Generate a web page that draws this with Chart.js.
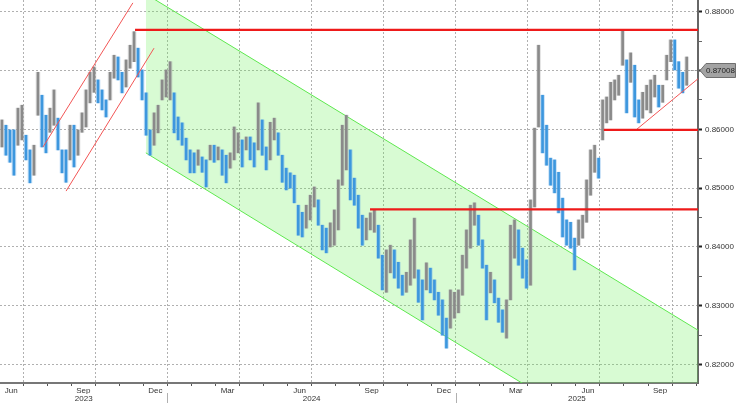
<!DOCTYPE html>
<html>
<head>
<meta charset="utf-8">
<script src="https://cdn.jsdelivr.net/npm/chart.js@4.4.1/dist/chart.umd.min.js"></script>
<style>
  html, body { margin: 0; padding: 0; background: #fff; }
  #wrap { width: 736px; height: 403px; position: relative; }
</style>
</head>
<body>
<div id="wrap"><canvas id="fx_chart"></canvas></div>
<script>
// x values are months after 1 Jun 2023
const xMin = 0.03;
const xMax = 29.08;
const firstBar = 0.11;
const barStep = 1 / 6; // one bar every ~5 days

const highs = [
  0.8616, 0.8607, 0.8599, 0.8599, 0.8636, 0.8641, 0.8590, 0.8565, 0.8573, 0.8697,
  0.8658, 0.8624, 0.8636, 0.8667, 0.8619, 0.8565, 0.8565, 0.8607, 0.8607, 0.8599,
  0.8628, 0.8667, 0.8697, 0.8706, 0.8684, 0.8667, 0.8650, 0.8697, 0.8726, 0.8723,
  0.8697, 0.8718, 0.8743, 0.8766, 0.8738, 0.8701, 0.8662, 0.8599, 0.8628, 0.8641,
  0.8684, 0.8701, 0.8715, 0.8662, 0.8621, 0.8611, 0.8585, 0.8565, 0.8560, 0.8565,
  0.8553, 0.8548, 0.8573, 0.8573, 0.8570, 0.8565, 0.8556, 0.8560, 0.8604, 0.8594,
  0.8582, 0.8587, 0.8587, 0.8577, 0.8645, 0.8616, 0.8570, 0.8612, 0.8619, 0.8594,
  0.8556, 0.8534, 0.8526, 0.8522, 0.8471, 0.8459, 0.8471, 0.8488, 0.8502, 0.8480,
  0.8437, 0.8432, 0.8441, 0.8463, 0.8514, 0.8607, 0.8624, 0.8565, 0.8517, 0.8488,
  0.8454, 0.8449, 0.8458, 0.8463, 0.8437, 0.8386, 0.8395, 0.8403, 0.8395, 0.8374,
  0.8352, 0.8357, 0.8412, 0.8449, 0.8361, 0.8344, 0.8373, 0.8364, 0.8344, 0.8323,
  0.8310, 0.8279, 0.8327, 0.8323, 0.8327, 0.8386, 0.8429, 0.8471, 0.8475, 0.8454,
  0.8412, 0.8369, 0.8357, 0.8344, 0.8313, 0.8293, 0.8310, 0.8437, 0.8446, 0.8429,
  0.8398, 0.8378, 0.8480, 0.8602, 0.8743, 0.8658, 0.8607, 0.8551, 0.8548, 0.8527,
  0.8483, 0.8446, 0.8442, 0.8415, 0.8446, 0.8454, 0.8514, 0.8565, 0.8573, 0.8551,
  0.8650, 0.8655, 0.8680, 0.8684, 0.8692, 0.8769, 0.8718, 0.8730, 0.8709, 0.8650,
  0.8663, 0.8675, 0.8684, 0.8692, 0.8675, 0.8675, 0.8726, 0.8752, 0.8752, 0.8715,
  0.8697, 0.8723
];
const lows = [
  0.8570, 0.8556, 0.8544, 0.8522, 0.8573, 0.8582, 0.8548, 0.8509, 0.8522, 0.8624,
  0.8570, 0.8560, 0.8595, 0.8607, 0.8565, 0.8526, 0.8510, 0.8548, 0.8536, 0.8556,
  0.8595, 0.8604, 0.8645, 0.8663, 0.8645, 0.8633, 0.8621, 0.8650, 0.8687, 0.8684,
  0.8662, 0.8672, 0.8704, 0.8715, 0.8689, 0.8650, 0.8590, 0.8556, 0.8573, 0.8594,
  0.8650, 0.8655, 0.8650, 0.8594, 0.8582, 0.8573, 0.8548, 0.8526, 0.8526, 0.8539,
  0.8527, 0.8502, 0.8548, 0.8544, 0.8548, 0.8522, 0.8509, 0.8534, 0.8548, 0.8560,
  0.8536, 0.8565, 0.8548, 0.8536, 0.8565, 0.8556, 0.8531, 0.8548, 0.8582, 0.8556,
  0.8510, 0.8497, 0.8500, 0.8475, 0.8420, 0.8417, 0.8432, 0.8446, 0.8468, 0.8437,
  0.8395, 0.8390, 0.8400, 0.8403, 0.8429, 0.8505, 0.8531, 0.8480, 0.8471, 0.8432,
  0.8403, 0.8412, 0.8429, 0.8425, 0.8381, 0.8327, 0.8323, 0.8356, 0.8347, 0.8330,
  0.8318, 0.8323, 0.8335, 0.8347, 0.8306, 0.8276, 0.8327, 0.8322, 0.8310, 0.8284,
  0.8250, 0.8228, 0.8262, 0.8279, 0.8288, 0.8318, 0.8364, 0.8398, 0.8437, 0.8403,
  0.8364, 0.8276, 0.8322, 0.8305, 0.8272, 0.8255, 0.8245, 0.8310, 0.8381, 0.8369,
  0.8347, 0.8330, 0.8335, 0.8468, 0.8604, 0.8560, 0.8539, 0.8505, 0.8492, 0.8458,
  0.8417, 0.8403, 0.8398, 0.8361, 0.8403, 0.8415, 0.8442, 0.8488, 0.8527, 0.8517,
  0.8582, 0.8611, 0.8616, 0.8650, 0.8658, 0.8709, 0.8628, 0.8680, 0.8621, 0.8611,
  0.8619, 0.8633, 0.8628, 0.8655, 0.8638, 0.8646, 0.8684, 0.8715, 0.8701, 0.8670,
  0.8662, 0.8675
];
const lastPrice = 0.87008;

const monthLabels = ["Jun", "Sep", "Dec", "Mar", "Jun", "Sep", "Dec", "Mar", "Jun", "Sep"];
const monthLabelAt = [0.5, 3.5, 6.5, 9.5, 12.5, 15.5, 18.5, 21.5, 24.5, 27.5];
const yearLabels = ["2023", "2024", "2025"];
const yearStarts = [7, 19]; // Jan 2024, Jan 2025
const yTicks = [0.82, 0.825, 0.83, 0.835, 0.84, 0.845, 0.85, 0.855, 0.86, 0.865, 0.87, 0.875, 0.88];

// falling channel (green)
const channelX = [6.1, 29.1];
const channelUpper = [0.8830, 0.8258];
const channelLower = [0.8560, 0.7985];

// red support / resistance and trend lines
const redLevels = [
  { x: [5.65, 29.1], y: [0.8769, 0.8769] },
  { x: [15.43, 29.1], y: [0.8464, 0.8464] },
  { x: [25.16, 29.1], y: [0.8599, 0.8599] },
];
const redTrends = [
  { x: [26.5, 29.08], y: [0.8599, 0.8686] },
  { x: [1.82, 5.56], y: [0.8570, 0.8815] },
  { x: [2.78, 6.44], y: [0.8495, 0.8738] },
];

const barX = highs.map((_, i) => firstBar + i * barStep);
const bars = highs.map((h, i) => ({ x: barX[i], y: [lows[i], h] }));
const isDown = highs.map((h, i) => i > 0 && h + lows[i] < highs[i - 1] + lows[i - 1]);

const toPoints = (xs, ys) => xs.map((x, i) => ({ x: x, y: ys[i] }));
const isMajor = (v) => Math.round(v * 1000) % 10 === 0;
const font = { family: "Liberation Sans", size: 8 };
const noPad = (s) => { s.paddingTop = 0; s.paddingBottom = 0; s.paddingLeft = 0; s.paddingRight = 0; };

const lineSets = [
  {
    type: "line", data: toPoints(channelX, channelLower),
    borderColor: "#5ee84f", borderWidth: 1, pointRadius: 0, order: 10,
  },
  {
    type: "line", data: toPoints(channelX, channelUpper),
    borderColor: "#5ee84f", borderWidth: 1, pointRadius: 0, order: 9,
    fill: "-1", backgroundColor: "rgba(100, 240, 80, 0.25)",
  },
];
redLevels.forEach((l) => lineSets.push({
  type: "line", data: toPoints(l.x, l.y),
  borderColor: "#ee1a1a", borderWidth: 2.2, pointRadius: 0, order: 1,
}));
redTrends.forEach((l) => lineSets.push({
  type: "line", data: toPoints(l.x, l.y),
  borderColor: "#f25555", borderWidth: 1, pointRadius: 0, order: 1,
}));

const extras = {
  id: "extras",
  afterDraw(chart) {
    const { ctx, chartArea, scales } = chart;
    ctx.save();
    // year separators under the axis
    ctx.strokeStyle = "#b0b0b0";
    ctx.lineWidth = 1;
    yearStarts.forEach((m) => {
      const x = Math.round(scales.x.getPixelForValue(m)) + 0.5;
      ctx.beginPath();
      ctx.moveTo(x, chartArea.bottom + 10);
      ctx.lineTo(x, chart.height);
      ctx.stroke();
    });
    // last price line + tag
    const y = Math.round(scales.y.getPixelForValue(lastPrice)) + 0.5;
    const x0 = scales.x.getPixelForValue(barX[barX.length - 1]);
    ctx.setLineDash([2, 2]);
    ctx.strokeStyle = "#999";
    ctx.beginPath();
    ctx.moveTo(x0, y);
    ctx.lineTo(chartArea.right, y);
    ctx.stroke();
    ctx.setLineDash([]);
    const r = chartArea.right + 2;
    ctx.beginPath();
    ctx.moveTo(r, y);
    ctx.lineTo(r + 6, y - 7);
    ctx.lineTo(chart.width - 0.5, y - 7);
    ctx.lineTo(chart.width - 0.5, y + 7);
    ctx.lineTo(r + 6, y + 7);
    ctx.closePath();
    ctx.fillStyle = "#a3a3a3";
    ctx.fill();
    ctx.strokeStyle = "#6f6f6f";
    ctx.stroke();
    ctx.fillStyle = "#1e1e1e";
    ctx.font = "8px 'Liberation Sans'";
    ctx.textBaseline = "middle";
    ctx.fillText(lastPrice.toFixed(5), r + 6, y + 0.5);
    ctx.restore();
  },
};

new Chart(document.getElementById("fx_chart"), {
  type: "bar",
  data: {
    datasets: [
      ...lineSets,
      {
        data: bars, grouped: false, barThickness: 4, order: 5,
        backgroundColor: isDown.map((d) => (d ? "rgba(110,175,235,0.38)" : "rgba(175,175,175,0.38)")),
      },
      {
        data: bars, grouped: false, barThickness: 2, order: 4,
        backgroundColor: isDown.map((d) => (d ? "#3d97de" : "#8a8a8a")),
      },
    ],
  },
  options: {
    responsive: true,
    maintainAspectRatio: false,
    animation: false,
    layout: { padding: 0 },
    plugins: { legend: { display: false }, tooltip: { enabled: false } },
    scales: {
      x: {
        type: "linear", position: "bottom", min: xMin, max: xMax, offset: false, weight: 0,
        afterBuildTicks: (s) => {
          const t = [];
          for (let m = 1; m <= 29; m++) t.push({ value: m });
          monthLabelAt.forEach((v) => t.push({ value: v }));
          s.ticks = t.sort((a, b) => a.value - b.value);
        },
        afterFit: (s) => { s.height = 11; noPad(s); },
        grid: {
          offset: false,
          color: (c) => (Number.isInteger(c.tick.value) && (c.tick.value - 1) % 3 === 0 ? "#b0b0b0" : "rgba(0,0,0,0)"),
          tickColor: (c) => (Number.isInteger(c.tick.value) ? "#555" : "rgba(0,0,0,0)"),
          tickLength: 3,
        },
        border: { color: "#777", width: 2, dash: [2, 2] },
        ticks: {
          autoSkip: false, maxRotation: 0, padding: 0, color: "#333", font: font,
          callback: (v) => {
            const k = monthLabelAt.indexOf(v);
            return k >= 0 ? monthLabels[k] : "";
          },
        },
      },
      x2: {
        type: "linear", position: "bottom", min: xMin, max: xMax, offset: false, weight: 1,
        afterBuildTicks: (s) => {
          const edges = [xMin, ...yearStarts, xMax];
          s.ticks = yearLabels.map((_, i) => ({ value: (edges[i] + edges[i + 1]) / 2 }));
        },
        afterFit: (s) => { s.height = 9; noPad(s); },
        grid: { display: false, drawTicks: false },
        border: { display: false },
        ticks: {
          autoSkip: false, maxRotation: 0, padding: 0, color: "#333", font: font,
          callback: (v, i) => yearLabels[i],
        },
      },
      y: {
        type: "linear", position: "right", min: 0.81687, max: 0.88199,
        afterBuildTicks: (s) => { s.ticks = yTicks.map((v) => ({ value: v })); },
        afterFit: (s) => { s.width = 38; noPad(s); },
        grid: {
          color: (c) => (isMajor(c.tick.value) ? "#b0b0b0" : "rgba(0,0,0,0)"),
          tickColor: (c) => (isMajor(c.tick.value) ? "#222" : "#666"),
          tickWidth: (c) => (isMajor(c.tick.value) ? 2 : 1),
          tickLength: 4,
        },
        border: { color: "#666", width: 2, dash: [2, 2] },
        ticks: {
          autoSkip: false, padding: 3, color: "#333", font: font,
          callback: (v) => (isMajor(v) ? v.toFixed(5) : ""),
        },
      },
    },
  },
  plugins: [extras],
});
</script>
</body>
</html>
